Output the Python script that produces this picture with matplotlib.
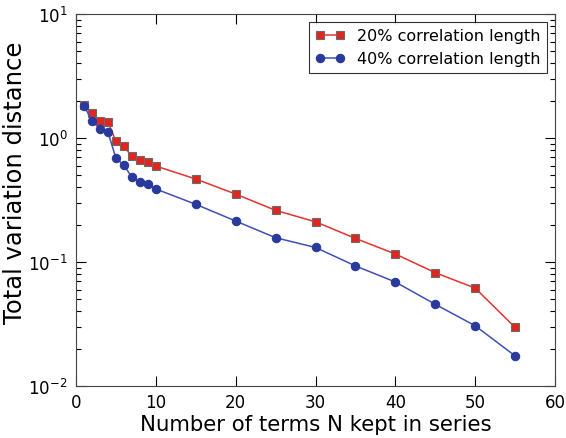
import numpy as np
import matplotlib
matplotlib.use('Agg')
import matplotlib.pyplot as plt

# dati
n_terms = [1, 2, 3, 4, 5, 6, 7, 8, 9, 10, 15, 20, 25, 30, 35, 40, 45, 50, 55]
tvd_20 = [1.86, 1.59, 1.38, 1.35, 0.94, 0.857, 0.711, 0.668, 0.644, 0.594,
          0.467, 0.353, 0.261, 0.211, 0.155, 0.116, 0.082, 0.0616, 0.0297]
tvd_40 = [1.82, 1.38, 1.18, 1.12, 0.686, 0.605, 0.482, 0.44, 0.423, 0.388,
          0.292, 0.214, 0.157, 0.131, 0.093, 0.069, 0.0456, 0.0306, 0.0175]
labels = ['20% correlation length', '40% correlation length']

plt.rcParams['mathtext.fontset'] = 'dejavusans'
plt.rcParams['xtick.direction'] = 'in'
plt.rcParams['ytick.direction'] = 'in'

fig = plt.figure(figsize=(5.66, 4.39), dpi=100)
# assi: sinistra 76px, destra 555px, alto 15px, basso 387px
ax = fig.add_axes([76/566, 1 - 387/439, (555 - 76)/566, (387 - 15)/439])

ax.semilogy(n_terms, tvd_20, '-s', color='#e8322b', mfc='#e0261f', mec='#6b6b6b',
            mew=0.8, ms=6, lw=1.1, label=labels[0])
ax.semilogy(n_terms, tvd_40, '-o', color='#3f4fb8', mfc='#2a3a9c', mec='#2a3a9c',
            mew=0.8, ms=6, lw=1.1, label=labels[1])

ax.set_xlim(0, 60)
ax.set_ylim(1e-2, 1e1)
ax.set_xlabel('Number of terms N kept in series', fontsize=15.3, labelpad=2)
ax.set_ylabel('Total variation distance', fontsize=17.5)
ax.yaxis.set_label_coords(-0.102, 0.55)
ax.tick_params(which='both', top=True, right=True, labelsize=12, width=0.8)
ax.tick_params(which='major', length=7)
ax.tick_params(which='minor', length=3.5)
ax.tick_params(axis='x', pad=5)
ax.tick_params(axis='y', pad=6)
for s in ax.spines.values():
    s.set_color('#444444')

leg = ax.legend(loc='upper right', fontsize=11.5, numpoints=2, fancybox=False,
                handlelength=1.8, borderaxespad=0.5)
leg.get_frame().set_edgecolor('black')
leg.get_frame().set_linewidth(0.8)

fig.savefig('out.png', dpi=100)
